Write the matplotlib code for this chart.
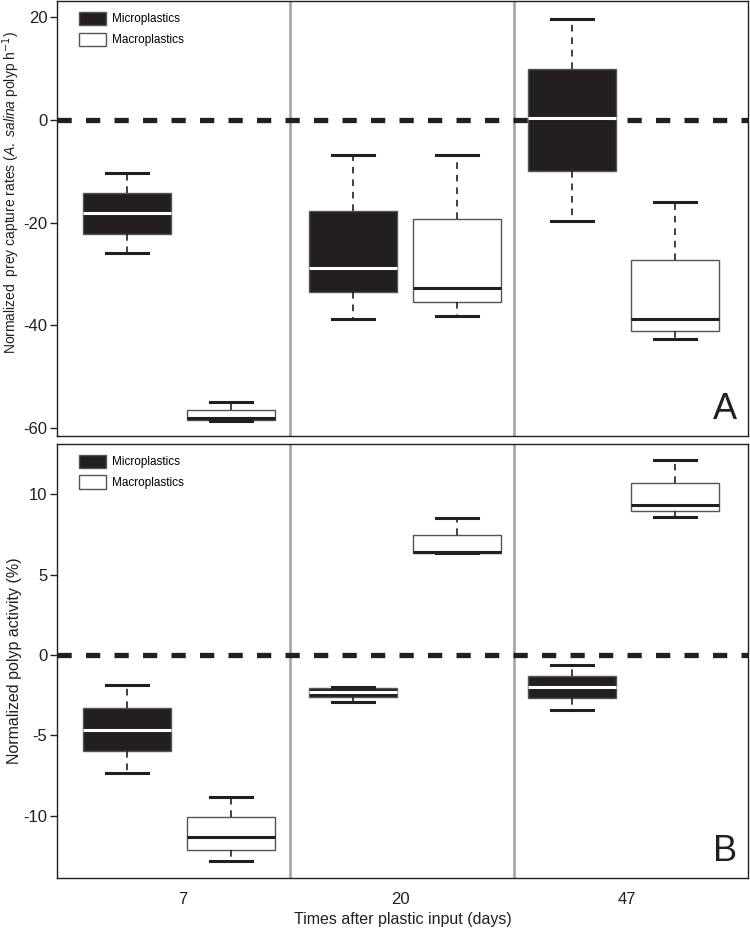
import matplotlib
matplotlib.use('Agg')
import matplotlib.pyplot as plt
from matplotlib.patches import Patch

plt.rcParams['font.family'] = ['Liberation Sans Narrow', 'Liberation Sans', 'DejaVu Sans']
plt.rcParams['mathtext.fontset'] = 'custom'
plt.rcParams['mathtext.rm'] = 'Liberation Sans'
plt.rcParams['mathtext.it'] = 'Liberation Sans:italic'
plt.rcParams['axes.unicode_minus'] = False

# data: five numbers per day (whisker low, q1, median, q3, whisker high)
days = ['7', '20', '47']
groups = ['Microplastics', 'Macroplastics']

capture_micro = [[-25.9, -22.3, -18.2, -14.3, -10.4],
                 [-38.8, -33.6, -28.8, -17.7, -6.8],
                 [-19.6, -9.9, 0.3, 10.0, 19.7]]
capture_macro = [[-58.7, -58.4, -58.1, -56.5, -55.0],
                 [-38.2, -35.4, -32.8, -19.3, -6.8],
                 [-42.7, -41.1, -38.8, -27.3, -16.0]]

activity_micro = [[-7.32, -6.0, -4.67, -3.28, -1.9],
                  [-2.9, -2.6, -2.32, -2.05, -2.0],
                  [-3.42, -2.7, -2.0, -1.33, -0.64]]
activity_macro = [[-12.8, -12.13, -11.3, -10.06, -8.82],
                  [6.33, 6.35, 6.4, 7.47, 8.5],
                  [8.59, 8.94, 9.35, 10.7, 12.13]]

# layout
pos_micro = [1.0, 3.17, 5.28]
pos_macro = [2.0, 4.17, 6.27]
tick_pos = [1.54, 3.625, 5.81]
sep_pos = [2.567, 4.72]
dark = '#231f20'


def to_stats(rows):
    return [dict(whislo=r[0], q1=r[1], med=r[2], q3=r[3], whishi=r[4], fliers=[]) for r in rows]


def panel(ax, micro, macro, letter):
    for s in sep_pos:
        ax.axvline(s, color='#a8a8a8', lw=2, zorder=1)
    ax.axhline(0, color=dark, lw=3.8, ls=(0, (2.7, 2.7)), zorder=1.5)
    for stats, pos, fill, medc in [(micro, pos_micro, dark, 'white'),
                                   (macro, pos_macro, 'white', dark)]:
        ax.bxp(to_stats(stats), positions=pos, widths=0.85, capwidths=0.4,
               patch_artist=True, showfliers=False, manage_ticks=False, zorder=3,
               boxprops=dict(facecolor=fill, edgecolor='#555555', linewidth=1),
               medianprops=dict(color=medc, linewidth=2.2),
               whiskerprops=dict(color=dark, linewidth=1.2, linestyle=(0, (4, 3.5))),
               capprops=dict(color=dark, linewidth=2.2))
    ax.set_xlim(0.327, 6.97)
    for sp in ax.spines.values():
        sp.set_color(dark)
        sp.set_linewidth(1)
    ax.tick_params(axis='y', direction='out', length=5, width=1, labelsize=12, pad=2, colors=dark)
    ax.text(0.984, 0.02, letter, transform=ax.transAxes, ha='right', va='bottom', fontsize=26,
            color=dark, family=['Liberation Sans'])
    handles = [Patch(facecolor=dark, edgecolor='#555555', lw=1),
               Patch(facecolor='white', edgecolor='#555555', lw=1)]
    ax.legend(handles, groups, loc='upper left', bbox_to_anchor=(0.032, 0.975), frameon=False,
              fontsize=8.5, handlelength=2.3, handleheight=1.35, labelspacing=0.6,
              handletextpad=0.5, borderpad=0, borderaxespad=0)


fig = plt.figure(figsize=(7.5, 9.34), dpi=100)
ax1 = fig.add_axes([0.076, 0.5332, 0.9213, 0.4657])
ax2 = fig.add_axes([0.076, 0.06, 0.9213, 0.4647])

panel(ax1, capture_micro, capture_macro, 'A')
ax1.set_ylim(-61.56, 23.17)
ax1.set_yticks([-60, -40, -20, 0, 20])
ax1.set_xticks([])
ax1.set_ylabel(r'Normalized  prey capture rates ($\it{A.\ salina}$ polyp h$^{\mathsf{-1}}$)', fontsize=10, color=dark)
ax1.yaxis.set_label_coords(-0.05, 0.56)

panel(ax2, activity_micro, activity_macro, 'B')
ax2.set_ylim(-13.88, 13.13)
ax2.set_yticks([-10, -5, 0, 5, 10])
ax2.set_xticks(tick_pos)
ax2.set_xticklabels(days)
ax2.tick_params(axis='x', length=0, pad=10, labelsize=12, colors=dark)
ax2.set_ylabel('Normalized polyp activity (%)', fontsize=11.5, color=dark)
ax2.yaxis.set_label_coords(-0.05, 0.5)
ax2.set_xlabel('Times after plastic input (days)', fontsize=11.5, color=dark, labelpad=4)

fig.savefig('out.png', dpi=100)
